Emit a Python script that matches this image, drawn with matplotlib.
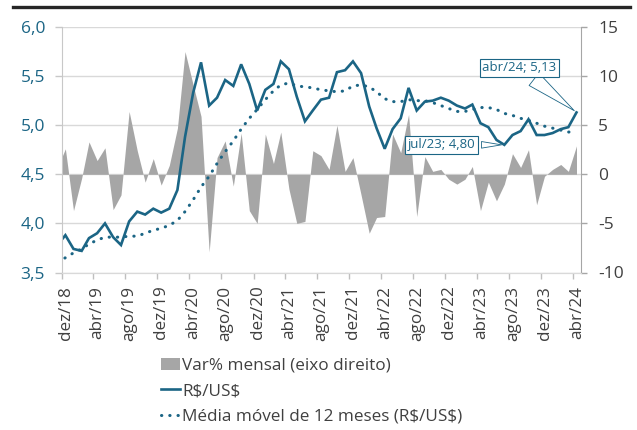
import pandas as pd
import numpy as np
import matplotlib
matplotlib.use("Agg")
import matplotlib.pyplot as plt
import matplotlib.transforms as mtransforms
from matplotlib.lines import Line2D
from matplotlib.patches import Patch
from matplotlib.ticker import FuncFormatter

plt.rcParams['font.family'] = ['Open Sans', 'DejaVu Sans']

# monthly data, nov/18 .. abr/24 (first point is clipped by the axis)
usd = [3.78, 3.88,
       3.74, 3.72, 3.85, 3.90, 4.00, 3.86, 3.78, 4.02, 4.12, 4.09, 4.15, 4.11,
       4.15, 4.34, 4.88, 5.33, 5.64, 5.20, 5.28, 5.46, 5.40, 5.62, 5.42, 5.15,
       5.36, 5.42, 5.65, 5.57, 5.29, 5.04, 5.15, 5.26, 5.28, 5.54, 5.56, 5.65,
       5.53, 5.19, 4.97, 4.76, 4.96, 5.07, 5.38, 5.15, 5.24, 5.25, 5.28, 5.25,
       5.20, 5.17, 5.21, 5.02, 4.98, 4.85, 4.80, 4.90, 4.94, 5.06, 4.90, 4.90,
       4.92, 4.96, 4.98, 5.13]
media12 = [3.61, 3.65,
           3.70, 3.74, 3.79, 3.83, 3.86, 3.86, 3.86, 3.87, 3.87, 3.90, 3.93, 3.95,
           3.98, 4.03, 4.12, 4.24, 4.37, 4.48, 4.61, 4.73, 4.84, 4.96, 5.07, 5.16,
           5.26, 5.35, 5.41, 5.43, 5.40, 5.39, 5.38, 5.36, 5.35, 5.34, 5.35, 5.40,
           5.41, 5.39, 5.34, 5.27, 5.24, 5.24, 5.26, 5.25, 5.25, 5.23, 5.20, 5.17,
           5.14, 5.14, 5.16, 5.18, 5.18, 5.16, 5.12, 5.10, 5.07, 5.05, 5.02, 4.99,
           4.97, 4.95, 4.93, 4.94]
var_mensal = [0.7, 2.6,
              -3.7, -0.4, 3.3, 1.4, 2.7, -3.6, -2.1, 6.4, 2.4, -0.8, 1.6, -1.1,
              0.9, 4.7, 12.5, 9.1, 5.9, -7.9, 1.7, 3.4, -1.2, 4.2, -3.7, -5.0,
              4.1, 1.1, 4.3, -1.5, -5.0, -4.8, 2.4, 1.9, 0.5, 5.0, 0.3, 1.7,
              -2.1, -6.0, -4.4, -4.3, 4.1, 2.2, 6.1, -4.3, 1.8, 0.3, 0.5, -0.5,
              -1.0, -0.5, 0.8, -3.7, -0.8, -2.7, -1.0, 2.1, 0.7, 2.5, -3.1, -0.2,
              0.5, 1.0, 0.3, 2.9]
tick_labels = ["dez/18", "abr/19", "ago/19", "dez/19", "abr/20", "ago/20", "dez/20",
               "abr/21", "ago/21", "dez/21", "abr/22", "ago/22", "dez/22",
               "abr/23", "ago/23", "dez/23", "abr/24"]

dates = pd.date_range("2018-11-01", periods=len(usd), freq="MS") + pd.Timedelta(days=14)
ticks = pd.date_range("2018-12-01", "2024-04-01", freq="4MS")

teal = "#1b6585"
gray_txt = "#404040"

fig = plt.figure(figsize=(6.37, 4.30), dpi=100)
ax = fig.add_axes([61.7 / 637, 1 - 272.5 / 430, 519 / 637, 245.5 / 430])
ax2 = ax.twinx()
ax.set_zorder(2)
ax2.set_zorder(1)
ax.patch.set_visible(False)

# area (right axis)
ax2.fill_between(dates, 0, var_mensal, color="#a6a6a6", lw=0)
ax2.set_ylim(-10, 15)
ax2.set_yticks(np.arange(-10, 16, 5))
ax2.yaxis.set_major_formatter(FuncFormatter(lambda v, p: f"{int(v)}"))
ax2.grid(axis="y", color="#d9d9d9", lw=1)
ax2.set_axisbelow(True)

# lines (left axis)
ax.plot(dates, usd, color=teal, lw=1.9, solid_joinstyle="miter")
ax.plot(dates, media12, color=teal, lw=2.2, linestyle=(0, (0.1, 2.6)),
        dash_capstyle="round")
ax.set_ylim(3.5, 6.0)
ax.set_yticks(np.arange(3.5, 6.01, 0.5))
ax.yaxis.set_major_formatter(FuncFormatter(lambda v, p: f"{v:.1f}".replace(".", ",")))
ax.set_xlim(pd.Timestamp("2018-12-01"), pd.Timestamp("2024-05-01"))
ax.set_xticks(ticks)
ax.set_xticklabels(tick_labels, rotation=90)

for a in (ax, ax2):
    a.spines["top"].set_visible(False)
    a.spines["left"].set_color("#c8c8c8")
    a.spines["bottom"].set_color("#d9d9d9")
    a.spines["right"].set_color("#a6a6a6")
ax.spines["right"].set_visible(False)
ax2.spines["left"].set_visible(False)

ax.tick_params(axis="y", length=5, width=1, color="#c8c8c8", pad=7,
               labelsize=12.5, labelcolor=teal)
ax.tick_params(axis="x", length=4.5, width=1, color="#bfbfbf", pad=5,
               labelsize=12.3, labelcolor=gray_txt)
ax2.tick_params(axis="y", length=4.5, width=1, color="#a6a6a6", pad=8,
                labelsize=12.5, labelcolor=gray_txt)

shift = mtransforms.ScaledTranslation(4 / 100, 0, fig.dpi_scale_trans)
for lbl in ax.get_xticklabels():
    lbl.set_transform(lbl.get_transform() + shift)

# callouts
i_min = 56
ax.annotate(f"jul/23; {usd[i_min]:.2f}".replace(".", ","), xy=(dates[i_min], usd[i_min]),
            xytext=(-45, 0), textcoords="offset points", ha="center", va="center",
            fontsize=9.5, color=teal,
            bbox=dict(boxstyle="square,pad=0.2", fc="white", ec=teal, lw=0.8),
            arrowprops=dict(arrowstyle="wedge,tail_width=0.5,shrink_factor=0.5",
                            fc="white", ec=teal, lw=0.6))
ax.annotate(f"abr/24; {usd[-1]:.2f}".replace(".", ","), xy=(dates[-1], usd[-1]),
            xytext=(-41, 32), textcoords="offset points", ha="center", va="center",
            fontsize=9.5, color=teal,
            bbox=dict(boxstyle="square,pad=0.2", fc="white", ec=teal, lw=0.8),
            arrowprops=dict(arrowstyle="wedge,tail_width=1.2,shrink_factor=0.5",
                            fc="white", ec=teal, lw=0.6))

handles = [Patch(color="#a6a6a6", lw=0),
           Line2D([], [], color=teal, lw=1.9),
           Line2D([], [], color=teal, lw=2.2, linestyle=(0, (0.1, 2.6)), dash_capstyle="round")]
labels = ["Var% mensal (eixo direito)", r"R\$/US\$", r"Média móvel de 12 meses (R\$/US\$)"]
fig.legend(handles, labels, loc="upper left", bbox_to_anchor=(154 / 637, 1 - 351 / 430),
           frameon=False, fontsize=12.3, handlelength=1.15, handletextpad=0.1,
           labelspacing=0.55, labelcolor=gray_txt, borderaxespad=0)

# thick rule at the top
fig.add_artist(Line2D([13 / 637, 630 / 637], [1 - 7 / 430, 1 - 7 / 430],
                      color="#262626", lw=2.4, transform=fig.transFigure))

fig.savefig("out.png", dpi=100)
